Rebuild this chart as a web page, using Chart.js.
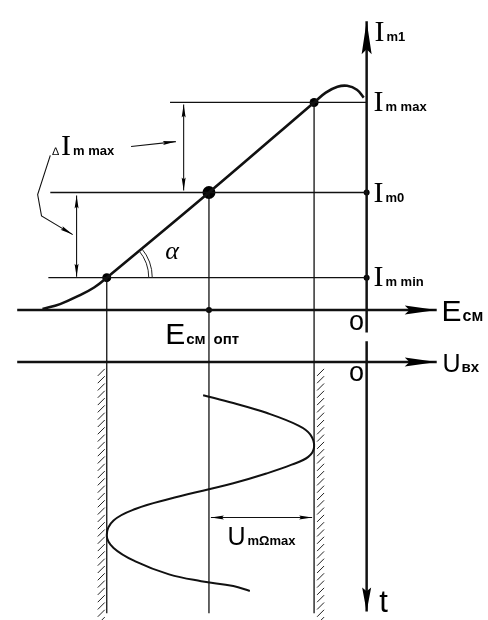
<!DOCTYPE html>
<html>
<head>
<meta charset="utf-8">
<script src="https://cdn.jsdelivr.net/npm/chart.js@4.4.1/dist/chart.umd.min.js"></script>
<style>
html, body { margin: 0; padding: 0; background: #fff; }
#diagram { display: block; }
</style>
</head>
<body>
<canvas id="diagram" width="488" height="620"></canvas>
<script>
// transfer characteristic Im1 = f(Eсм), origin at the crossing of the axes
const transferE = [-333, -315, -295, -280, -267, -162, -54, -42, -30, -20, -10, -3];
const transferI = [1, 6, 15, 23, 33, 120, 212, 222, 228, 229, 225, 217];

// working points
const biasE = [-267, -162, -54];          // Eмин, Eсм опт, Eмакс
const levelI = [33, 120, 212];            // Im min, Im0, Im max
const levelStart = [-327, -325, -202];    // left end of each level line

// input signal Uвх(t), drawn below the Uвх axis
const uAxisLevel = -53;
const inputU = [-168, -137, -103, -70, -58, -54, -60, -77, -103, -137, -162, -203, -237, -260, -267, -260, -237, -203, -170, -137, -120];
const inputT = [-87, -95, -105, -118, -127, -140, -150, -158, -167, -177, -183, -193, -203, -215, -230, -243, -257, -270, -277, -282, -287];

const bottom = -310;

function pts(xs, ys) {
    return xs.map((x, i) => ({ x: x, y: ys[i] }));
}

function line(xs, ys, width, extra) {
    return Object.assign({
        data: pts(xs, ys),
        showLine: true,
        borderColor: '#111',
        borderWidth: width,
        pointRadius: 0,
        tension: 0
    }, extra || {});
}

let datasets = [];

// axes
datasets.push(line([-359, 72], [0, 0], 2.5, { arrow: 'end', arrowLen: 32, arrowWidth: 9 }));
datasets.push(line([-359, 72], [uAxisLevel, uAxisLevel], 2.5, { arrow: 'end', arrowLen: 32, arrowWidth: 9 }));
datasets.push(line([0, 0], [-23, 295], 2.5, { arrow: 'end', arrowLen: 33, arrowWidth: 10 }));
datasets.push(line([0, 0], [-32, -308], 2.5, { arrow: 'end', arrowLen: 24, arrowWidth: 9 }));

// level lines and projection lines
levelI.forEach((lv, i) => {
    datasets.push(line([levelStart[i], 0], [lv, lv], 1.3));
    datasets.push(line([biasE[i], biasE[i]], [lv, bottom], 1.3));
});

// dimension arrows
datasets.push(line([-188, -188], [210, 122], 1.1, { arrow: 'both', arrowLen: 13, arrowWidth: 4 }));
datasets.push(line([-298, -298], [117, 34], 1.1, { arrow: 'both', arrowLen: 13, arrowWidth: 4 }));
datasets.push(line([-160, -56], [-212, -212], 1.1, { arrow: 'both', arrowLen: 13, arrowWidth: 4 }));
datasets.push(line([-242, -196], [167, 172], 1.1, { arrow: 'end', arrowLen: 13, arrowWidth: 4 }));
datasets.push(line([-325, -338, -334, -302], [158, 118, 96, 77], 1.1, { arrow: 'end', arrowLen: 13, arrowWidth: 4 }));

// curves
datasets.push(line(transferE, transferI, 2.6, { tension: 0.4 }));
datasets.push(line(inputU, inputT, 2, { tension: 0.4 }));

// dots
datasets.push({
    data: pts([biasE[0], biasE[1], biasE[2], biasE[1], 0, 0], [levelI[0], levelI[1], levelI[2], 0, levelI[1], levelI[0]]),
    pointRadius: [4.5, 6.5, 4.5, 3, 3, 3],
    pointBackgroundColor: '#000',
    pointBorderWidth: 0
});

const arrowPlugin = {
    id: 'arrows',
    afterDatasetsDraw(chart) {
        const ctx = chart.ctx;
        chart.data.datasets.forEach((ds, i) => {
            if (!ds.arrow) return;
            const el = chart.getDatasetMeta(i).data;
            const heads = [];
            if (ds.arrow === 'end' || ds.arrow === 'both') heads.push([el[el.length - 2], el[el.length - 1]]);
            if (ds.arrow === 'both') heads.push([el[1], el[0]]);
            heads.forEach(([a, b]) => {
                const ang = Math.atan2(b.y - a.y, b.x - a.x);
                ctx.save();
                ctx.translate(b.x, b.y);
                ctx.rotate(ang);
                ctx.beginPath();
                ctx.moveTo(0, 0);
                ctx.lineTo(-ds.arrowLen, -ds.arrowWidth / 2);
                ctx.lineTo(-ds.arrowLen * 0.85, 0);
                ctx.lineTo(-ds.arrowLen, ds.arrowWidth / 2);
                ctx.closePath();
                ctx.fillStyle = '#000';
                ctx.fill();
                ctx.restore();
            });
        });
    }
};

const decorPlugin = {
    id: 'decor',
    afterDatasetsDraw(chart) {
        const ctx = chart.ctx;
        const sx = chart.scales.x, sy = chart.scales.y;
        const X = v => sx.getPixelForValue(v);
        const Y = v => sy.getPixelForValue(v);

        // hatching outside the limits of the input swing
        ctx.save();
        ctx.strokeStyle = '#222';
        ctx.lineWidth = 1;
        const top = Y(uAxisLevel) + 9, end = Y(bottom);
        const left = X(biasE[0]), right = X(biasE[2]);
        for (let y = top; y < end + 8; y += 7.3) {
            ctx.beginPath();
            ctx.moveTo(left - 9, y + 5);
            ctx.lineTo(left - 2, y - 2);
            ctx.moveTo(right + 3, y + 5);
            ctx.lineTo(right + 10, y - 2);
            ctx.stroke();
        }

        // angle alpha
        const cx = X(biasE[0]), cy = Y(levelI[0]);
        const ang = Math.atan2(Y(levelI[2]) - cy, X(biasE[2]) - cx);
        [42, 45.5].forEach(r => {
            ctx.beginPath();
            ctx.arc(cx, cy, r, ang, 0);
            ctx.stroke();
        });
        ctx.restore();

        // labels
        ctx.save();
        ctx.fillStyle = '#000';
        ctx.textBaseline = 'alphabetic';
        const serif = '"Liberation Serif", serif';
        const sans = '"Liberation Sans", Arial, sans-serif';
        function label(x, y, parts) {
            let px = X(x);
            parts.forEach(p => {
                ctx.font = p[1];
                ctx.fillText(p[0], px + (p[2] || 0), Y(y));
                px += ctx.measureText(p[0]).width + (p[2] || 0);
            });
        }
        label(8, 275, [['I', '30px ' + serif], ['m1', 'bold 13px ' + sans, 2]]);
        label(7, 203, [['I', '30px ' + serif], ['m max', 'bold 13px ' + sans, 2]]);
        label(7, 110, [['I', '30px ' + serif], ['m0', 'bold 13px ' + sans, 2]]);
        label(7, 25, [['I', '30px ' + serif], ['m min', 'bold 13px ' + sans, 2]]);
        label(-323, 158, [['∆', '11px ' + sans], ['I', '30px ' + serif, 2], ['m max', 'bold 13px ' + sans, 2]]);
        label(-207, 52, [['α', 'italic 26px ' + serif]]);
        label(77, -11, [['E', '30px ' + sans], ['см', 'bold 16px ' + sans, 1]]);
        label(-207, -35, [['E', '30px ' + sans], ['см', 'bold 15px ' + sans, 1], ['опт', 'bold 15px ' + sans, 8]]);
        label(78, -63, [['U', '25px ' + sans], ['вх', 'bold 15px ' + sans, 1]]);
        label(-18, -20, [['o', '27px ' + sans]]);
        label(-18, -73, [['o', '27px ' + sans]]);
        label(13, -308, [['t', '31px ' + sans]]);
        label(-143, -240, [['U', '25px ' + sans], ['mΩmax', 'bold 13px ' + sans, 2]]);
        ctx.restore();
    }
};

new Chart(document.getElementById('diagram'), {
    type: 'scatter',
    data: { datasets: datasets },
    options: {
        responsive: false,
        animation: false,
        layout: { padding: 0 },
        scales: {
            x: { type: 'linear', min: -370, max: 118, display: false },
            y: { type: 'linear', min: -310, max: 310, display: false }
        },
        plugins: {
            legend: { display: false },
            tooltip: { enabled: false }
        }
    },
    plugins: [arrowPlugin, decorPlugin]
});
</script>
</body>
</html>
